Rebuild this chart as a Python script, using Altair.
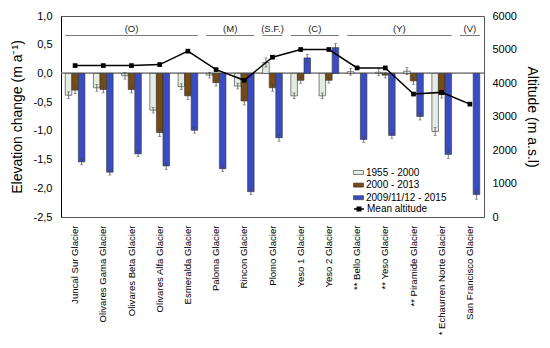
import altair as alt
import pandas as pd

glaciers = [
    "Juncal Sur Glacier", "Olivares Gama Glacier", "Olivares Beta Glacier",
    "Olivares Alfa Glacier", "Esmeralda Glacier", "Paloma Glacier",
    "Rincon Glacier", "Plomo Glacier", "Yeso 1 Glacier", "Yeso 2 Glacier",
    "** Bello Glacier", "** Yeso Glacier", "** Piramide Glacier",
    "* Echaurren Norte Glacier", "San Francisco Glacier",
]
periods = ["1955 - 2000", "2000 - 2013", "2009/11/12 - 2015"]
period_colors = ["#e6ece2", "#764c16", "#3a4cc2"]

change_1955_2000 = [-0.38, -0.25, -0.04, -0.64, -0.23, -0.03, -0.22, 0.19,
                    -0.39, -0.39, 0.03, 0.02, 0.04, -1.01, None]
change_2000_2013 = [-0.29, -0.28, -0.28, -1.03, -0.39, -0.16, -0.48, -0.25,
                    -0.12, -0.12, None, -0.03, -0.13, -0.37, None]
change_2009_2015 = [-1.54, -1.72, -1.40, -1.61, -0.99, -1.66, -2.06, -1.12,
                    0.27, 0.45, -1.15, -1.08, -0.75, -1.41, -2.11]

err_1955_2000 = [0.06, 0.06, 0.06, 0.05, 0.05, 0.05, 0.05, 0.08,
                 0.05, 0.05, 0.06, 0.06, 0.06, 0.07, None]
err_2000_2013 = [0.06, 0.06, 0.06, 0.07, 0.06, 0.06, 0.07, 0.06,
                 0.05, 0.05, None, 0.05, 0.06, 0.06, None]
err_2009_2015 = [0.05, 0.05, 0.05, 0.06, 0.05, 0.05, 0.05, 0.06,
                 0.06, 0.07, 0.05, 0.05, 0.06, 0.07, 0.08]

mean_altitude = [4520, 4520, 4520, 4550, 4950, 4400, 4080, 4770,
                 5000, 5000, 4450, 4450, 3670, 3720, 3370]

group_names = ["(O)", "(M)", "(S.F.)", "(C)", "(Y)", "(V)"]
group_first = [0, 5, 7, 8, 10, 14]
group_last = [4, 6, 7, 9, 13, 14]

rows = []
for i, g in enumerate(glaciers):
    for p, vals, errs in zip(periods,
                             [change_1955_2000, change_2000_2013, change_2009_2015],
                             [err_1955_2000, err_2000_2013, err_2009_2015]):
        v = vals[i]
        if v is None:
            continue
        rows.append(dict(glacier=g, period=p, change=v,
                         lo=v - errs[i], hi=v + errs[i]))
bars_df = pd.DataFrame(rows)
alt_df = pd.DataFrame(dict(glacier=glaciers, altitude=mean_altitude,
                           idx=list(range(len(glaciers))),
                           series=["Mean altitude"] * len(glaciers)))
grp_df = pd.DataFrame(dict(name=group_names, first=group_first, last=group_last))

FONT = "Liberation Sans"
xs = alt.Scale(domain=glaciers, paddingInner=0, paddingOuter=0)
xo = alt.Scale(domain=periods, paddingInner=0, paddingOuter=0.65)
ys = alt.Scale(domain=[-2.5, 1.0], nice=False, zero=False)
ys_alt = alt.Scale(domain=[0, 6000], nice=False, zero=False)

x_axis = alt.Axis(labelAngle=270, labelAlign="right", labelBaseline="middle",
                  labelFontSize=9.6, labelPadding=8, ticks=False, domain=False,
                  labelColor="#000", labelOverlap=False, title=None)
y_axis = alt.Axis(values=[-2.5, -2.0, -1.5, -1.0, -0.5, 0.0, 0.5, 1.0],
                  labelExpr="(datum.value < 0 ? '-' : '') + replace(format(abs(datum.value), '.1f'), '.', ',')",
                  ticks=False, labelPadding=9, grid=False, domainColor="#000",
                  labelOverlap=False,
                  labelFontSize=11, labelColor="#000", titleFontSize=14,
                  titleFontWeight="normal", titleColor="#000", titlePadding=9)
y_axis_r = alt.Axis(orient="right", values=[0, 1000, 2000, 3000, 4000, 5000, 6000],
                    format="d", ticks=False, labelPadding=8, grid=False,
                    labelOverlap=False,
                    domain=False, labelFontSize=11, labelColor="#000",
                    titleFontSize=14, titleFontWeight="normal", titleColor="#000",
                    titlePadding=8)
Y_TITLE = "Elevation change (m a\u207b\u00b9)"
R_TITLE = "Altitude (m a.s.l)"

zero = alt.Chart(alt_df).mark_rule(color="#888", strokeWidth=1).encode(
    y=alt.YDatum(0, scale=ys, axis=y_axis, title=Y_TITLE))

bars = alt.Chart(bars_df).mark_bar(stroke="#333", strokeWidth=0.6).encode(
    x=alt.X("glacier:N", scale=xs, axis=x_axis, sort=glaciers),
    xOffset=alt.XOffset("period:N", scale=xo, sort=periods),
    y=alt.Y("change:Q", scale=ys, axis=y_axis, title=Y_TITLE),
    fill=alt.Fill("period:N", sort=periods,
                  scale=alt.Scale(domain=periods, range=period_colors),
                  legend=alt.Legend(orient="none", legendX=292, legendY=151,
                                    title=None, padding=0,
                                    symbolType="M-1,-0.4H1V0.4H-1Z",
                                    symbolSize=100, symbolStrokeColor="#333",
                                    symbolStrokeWidth=0.6, labelFontSize=10,
                                    labelColor="#000", labelOffset=2,
                                    rowPadding=1.6)),
)

err = alt.Chart(bars_df).mark_rule(color="#444", strokeWidth=0.7).encode(
    x=alt.X("glacier:N", scale=xs, axis=x_axis, sort=glaciers),
    xOffset=alt.XOffset("period:N", scale=xo, sort=periods),
    y=alt.Y("lo:Q", scale=ys, axis=y_axis, title=Y_TITLE),
    y2="hi:Q",
)
cap_lo = alt.Chart(bars_df).mark_tick(color="#444", size=3, thickness=0.7).encode(
    x=alt.X("glacier:N", scale=xs, axis=x_axis, sort=glaciers),
    xOffset=alt.XOffset("period:N", scale=xo, sort=periods),
    y=alt.Y("lo:Q", scale=ys, axis=y_axis, title=Y_TITLE),
)
cap_hi = alt.Chart(bars_df).mark_tick(color="#444", size=3, thickness=0.7).encode(
    x=alt.X("glacier:N", scale=xs, axis=x_axis, sort=glaciers),
    xOffset=alt.XOffset("period:N", scale=xo, sort=periods),
    y=alt.Y("hi:Q", scale=ys, axis=y_axis, title=Y_TITLE),
)

left = alt.layer(zero, bars, err, cap_lo, cap_hi)

xq = alt.Scale(domain=[-0.5, len(glaciers) - 0.5], nice=False, zero=False)
grp_base = alt.Chart(grp_df).transform_calculate(
    x1="datum.first - 0.35", x2="datum.last + 0.35",
    xm="(datum.first + datum.last) / 2")
grp_rule = grp_base.mark_rule(color="#777", strokeWidth=1).encode(
    x=alt.X("x1:Q", scale=xq, axis=None),
    x2="x2:Q",
    y=alt.YDatum(0.66, scale=ys, axis=None),
)
grp_text = grp_base.mark_text(fontSize=9.5, color="#222", baseline="middle").encode(
    x=alt.X("xm:Q", scale=xq, axis=None),
    y=alt.YDatum(0.78, scale=ys, axis=None),
    text="name:N",
)
groups = alt.layer(grp_rule, grp_text)

line = alt.Chart(alt_df).mark_line(strokeWidth=1.5).encode(
    x=alt.X("glacier:N", scale=xs, sort=glaciers, axis=None),
    y=alt.Y("altitude:Q", scale=ys_alt, axis=y_axis_r, title=R_TITLE),
    order="idx:Q",
    stroke=alt.Stroke("series:N",
                      scale=alt.Scale(domain=["Mean altitude"], range=["#000"]),
                      legend=alt.Legend(orient="none", legendX=292, legendY=187,
                                        title=None, padding=0,
                                        symbolType="M-1,0H1M-0.35,-0.35H0.35V0.35H-0.35Z",
                                        symbolSize=100, symbolStrokeWidth=1.5,
                                        symbolFillColor="#000",
                                        labelFontSize=10, labelColor="#000",
                                        labelOffset=2)),
)
pts = alt.Chart(alt_df).mark_square(size=22, color="#000", opacity=1).encode(
    x=alt.X("glacier:N", scale=xs, sort=glaciers, axis=None),
    y=alt.Y("altitude:Q", scale=ys_alt, axis=y_axis_r, title=R_TITLE),
)
right = alt.layer(line, pts)

chart = alt.layer(left, groups, right).resolve_scale(
    x="independent", y="independent"
).properties(
    width=534, height=332,
    padding={"left": 2, "right": 3, "top": 2, "bottom": 5},
    autosize=alt.AutoSizeParams(type="fit", contains="padding"),
).configure(font=FONT).configure_view(stroke="#555", strokeWidth=1)

chart.save("out.html", embed_options={"renderer": "svg", "actions": False})
